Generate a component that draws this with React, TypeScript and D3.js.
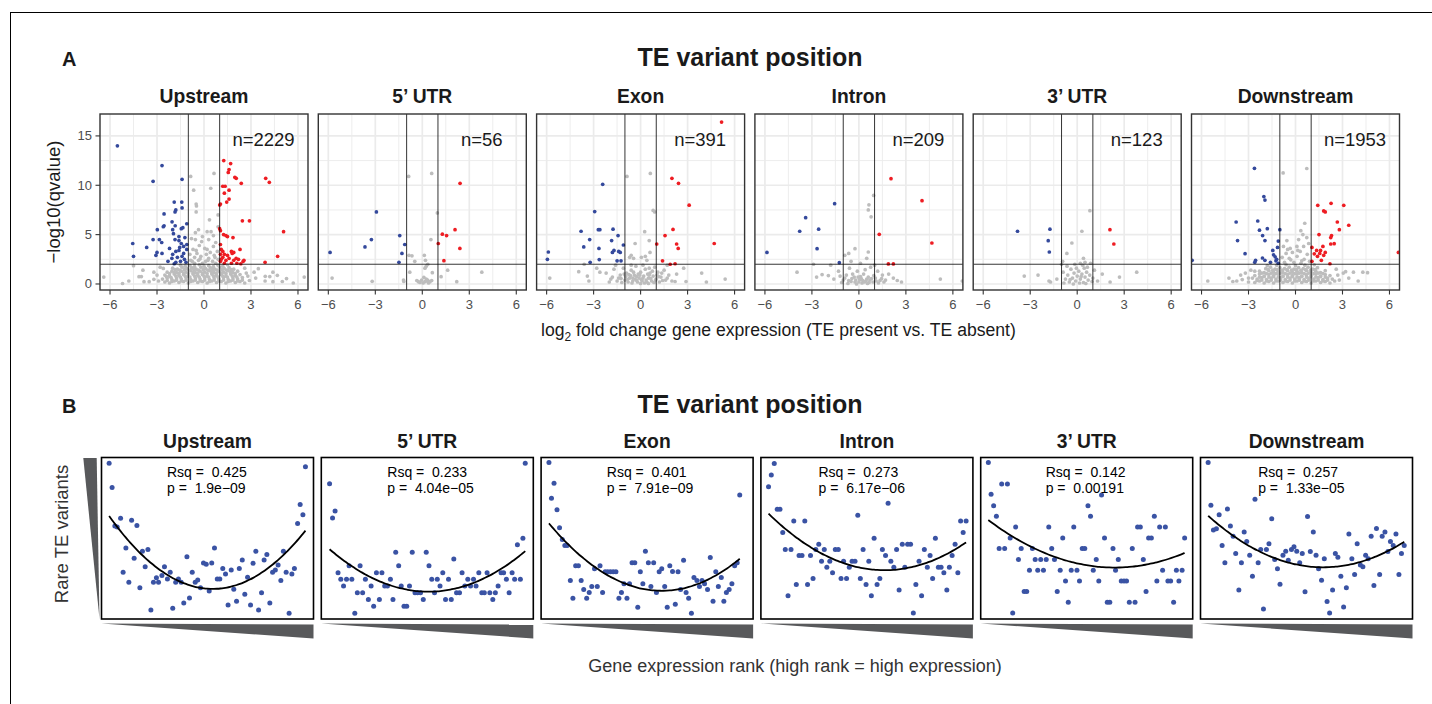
import React from "react";
import * as d3 from "d3";

// ---------- data ----------
const facets = ["Upstream", "5\u2019 UTR", "Exon", "Intron", "3\u2019 UTR", "Downstream"];
const nLabels = ["n=2229", "n=56", "n=391", "n=209", "n=123", "n=1953"];
const xTicks = [-6, -3, 0, 3, 6];
const xMinor = [-4.5, -1.5, 1.5, 4.5];
const yTicks = [0, 5, 10, 15];
const yMinor = [2.5, 7.5, 12.5];
const lfcCut = [-1, 1];
const qCut = 2;

// Panel A: "log2FC,-log10q" pairs per facet
const downA = [
  "-5.53,14.0 -2.68,12.0 -3.25,10.4 -1.40,10.6 -1.9,8.3 -1.42,8.3 -1.8,7.5 -1.4,7.7 -1.85,7.3 -2.55,7.1 -2.04,6.3 -2.55,5.9 -2.6,5.8 -2.98,5.5 -1.84,5.9 -1.1,6.1 -2.0,5.5 -1.45,5.6 -1.35,5.7 -1.95,5.1 -1.6,4.8 -1.22,4.7 -3.25,4.5 -2.85,4.5 -2.7,4.2 -4.55,4.1 -3.66,3.7 -3.0,3.2 -3.07,2.9 -2.68,3.1 -4.5,2.8 -2.0,3.0 -1.8,3.3 -1.6,3.4 -1.3,3.1 -2.05,2.6 -1.8,2.2 -1.5,2.3 -1.25,2.5 -1.9,2.05 -2.3,2.3 -1.85,4.5 -1.6,4.4 -1.45,4.1 -1.3,3.8 -1.1,4.0 -1.55,3.7 -1.15,2.2 -1.7,2.7 -1.4,2.8 -2.2,3.6 -1.1,3.5",
  "-5.89,3.2 -2.93,7.3 -3.25,4.5 -3.66,3.75 -1.44,4.9 -1.12,4.0 -1.3,3.1 -1.49,2.2",
  "-5.89,3.24 -5.95,2.5 -2.42,10.1 -2.93,7.33 -3.8,5.34 -2.7,5.5 -2.6,5.5 -1.76,5.55 -3.25,4.5 -1.44,4.9 -1.85,4.4 -1.1,3.95 -3.63,3.75 -2.66,3.6 -1.4,3.3 -1.3,3.2 -1.8,3.2 -1.7,3.4 -2.64,2.47 -3.22,2.2 -1.5,2.35 -1.25,2.35",
  "-5.87,3.2 -1.55,8.14 -3.4,6.72 -3.78,5.34 -2.57,5.55 -2.67,3.58 -1.25,2.16",
  "-3.81,5.34 -1.74,5.55 -1.85,4.39 -1.78,3.24",
  "-2.62,11.72 -2.02,8.85 -1.95,8.5 -3.79,6.28 -2.41,6.38 -2.3,5.45 -1.8,5.6 -1.0,5.5 -2.1,4.9 -1.95,4.4 -3.7,4.4 -1.1,4.35 -1.15,3.7 -1.45,3.4 -3.22,3.07 -2.11,2.63 -1.95,2.4 -1.4,2.95 -1.3,2.75 -1.2,2.5 -1.25,2.35 -2.55,2.4 -2.6,2.2 -6.6,2.4 -1.6,2.2 -1.1,2.1",
];
const upA = [
  "1.26,12.5 1.7,12.2 1.6,11.6 1.55,11.3 1.97,10.8 2.06,10.7 2.38,10.2 3.94,10.7 4.17,10.3 1.2,9.9 1.35,9.9 1.3,9.2 1.6,9.5 1.6,8.6 1.45,8.3 1.05,8.1 1.0,8.0 2.45,6.4 2.9,6.4 5.08,5.3 1.0,5.6 1.05,5.4 1.25,5.0 1.4,4.9 1.5,4.8 1.85,4.7 1.05,4.0 1.1,3.5 1.2,3.3 1.3,3.0 1.75,3.3 1.8,3.1 1.9,3.2 2.3,3.5 1.6,2.6 1.4,2.4 1.2,2.7 1.1,2.5 1.5,2.9 1.9,2.4 2.05,2.6 2.2,2.5 2.5,2.3 2.55,2.4 1.75,2.1 2.1,2.1 2.35,2.05 4.7,2.8 3.9,2.2 1.3,2.1 1.05,2.3 1.05,3.0",
  "2.41,10.2 2.09,5.5 1.28,5.05 1.55,4.9 1.02,4.1 2.4,3.6 1.38,2.36",
  "5.17,16.4 2.0,10.7 2.42,10.2 3.1,7.98 2.07,5.53 1.56,4.9 1.03,4.05 2.3,4.05 2.4,3.6 4.7,4.1 1.4,2.35 1.89,2.0 2.2,2.05",
  "2.05,10.67 4.03,8.44 4.66,4.15 1.3,5.03 1.88,2.03 2.2,2.03",
  "2.09,5.5 2.34,4.05",
  "1.42,7.97 2.27,8.17 3.08,7.97 1.8,7.4 1.9,7.3 2.67,6.28 3.4,5.95 2.8,5.5 1.5,5.0 2.3,4.9 2.25,4.7 2.25,4.05 2.47,4.08 1.05,3.7 1.35,3.4 1.75,3.8 1.6,3.4 1.8,2.9 1.55,3.1 1.4,2.8 1.65,2.4 1.05,2.3 2.2,2.05 6.57,3.2 1.2,3.05 1.9,3.2",
];
const nsA = [
  "-0.85,10.9 0.64,11.2 -0.66,9.5 0.43,9.7 -0.5,8.1 -0.48,7.9 -0.5,7.3 0.9,7.0 0.35,6.5 0.9,5.8 -0.35,5.5 -0.55,5.2 0.2,5.3 0.45,5.3 0.3,4.5 -0.15,4.3 -0.55,4.5 -0.8,4.6 0.75,4.2 0.6,3.8 -0.3,3.9 0.05,3.6 -0.7,3.5 0.85,3.3 0.4,3.2 -0.45,3.1 -0.9,3.0 0.15,3.0 0.65,2.9 -0.2,2.8 -0.6,2.7 0.3,2.6 0.9,2.5 -0.85,2.4 -0.35,2.4 0.1,2.3 0.55,2.3 -0.1,2.1 0.75,2.1 -0.6,2.1 " +
  "-2.5,0.2 -2.2,0.1 -1.9,0.3 -1.6,0.15 -1.3,0.25 -1.0,0.1 -0.7,0.3 -0.4,0.15 -0.1,0.25 0.2,0.1 0.5,0.3 0.8,0.15 1.1,0.25 1.4,0.1 1.7,0.3 2.0,0.15 2.3,0.25 2.6,0.1 " +
  "-2.65,0.5 -2.35,0.6 -2.05,0.45 -1.75,0.6 -1.45,0.5 -1.15,0.65 -0.85,0.45 -0.55,0.6 -0.25,0.5 0.05,0.65 0.35,0.45 0.65,0.6 0.95,0.5 1.25,0.65 1.55,0.45 1.85,0.6 2.15,0.5 2.45,0.65 " +
  "-2.5,0.9 -2.2,0.8 -1.9,1.0 -1.6,0.85 -1.3,0.95 -1.0,0.8 -0.7,1.0 -0.4,0.85 -0.1,0.95 0.2,0.8 0.5,1.0 0.8,0.85 1.1,0.95 1.4,0.8 1.7,1.0 2.0,0.85 2.3,0.95 " +
  "-2.35,1.2 -2.05,1.3 -1.75,1.15 -1.45,1.3 -1.15,1.2 -0.85,1.35 -0.55,1.15 -0.25,1.3 0.05,1.2 0.35,1.35 0.65,1.15 0.95,1.3 1.25,1.2 1.55,1.35 1.85,1.15 2.15,1.3 " +
  "-2.0,1.6 -1.7,1.5 -1.4,1.7 -1.1,1.55 -0.8,1.65 -0.5,1.5 -0.2,1.7 0.1,1.55 0.4,1.65 0.7,1.5 1.0,1.7 1.3,1.55 1.6,1.65 1.9,1.5 -1.5,1.9 -0.9,1.85 -0.3,1.95 0.3,1.85 0.9,1.9 1.5,1.95 " +
  "-2.35,0.35 -2.05,0.25 -1.75,0.4 -1.45,0.3 -1.15,0.4 -0.85,0.25 -0.55,0.4 -0.25,0.3 0.05,0.4 0.35,0.25 0.65,0.4 0.95,0.3 1.25,0.4 1.55,0.25 1.85,0.4 2.15,0.3 2.45,0.4 " +
  "-2.4,0.75 -2.1,0.65 -1.8,0.8 -1.5,0.7 -1.2,0.8 -0.9,0.7 -0.6,0.8 -0.3,0.7 0.0,0.8 0.3,0.7 0.6,0.8 0.9,0.7 1.2,0.8 1.5,0.7 1.8,0.8 2.1,0.7 " +
  "-2.2,1.05 -1.9,1.15 -1.6,1.05 -1.3,1.1 -1.0,1.05 -0.7,1.15 -0.4,1.05 -0.1,1.1 0.2,1.05 0.5,1.15 0.8,1.05 1.1,1.1 1.4,1.05 1.7,1.15 2.0,1.05 " +
  "-1.85,1.45 -1.55,1.4 -1.25,1.45 -0.95,1.4 -0.65,1.45 -0.35,1.4 -0.05,1.45 0.25,1.4 0.55,1.45 0.85,1.4 1.15,1.45 1.45,1.4 1.75,1.45 -1.2,1.8 -0.6,1.75 0.0,1.8 0.6,1.75 1.2,1.8 -0.75,2.3 -0.25,2.55 0.25,2.4 0.7,2.7 -0.5,3.4 0.2,3.5 -0.1,4.8 0.6,4.9 " +
  "-6.4,0.7 -5.2,0.05 -4.8,0.3 -4.5,1.85 -4.15,0.74 -3.83,0.23 -3.5,0.23 -3.2,0.47 -3.2,1.2 -3.0,0.9 -2.9,0.3 -2.8,1.7 -2.6,1.58 2.8,0.8 2.9,0.35 3.2,1.2 3.3,0.6 3.47,1.55 3.91,0.78 4.68,0.88 5.27,0.55 4.4,0.23 3.9,0.3 4.2,0.75 4.4,1.2 5.0,0.25 5.7,0.1 6.4,0.7 -3.9,1.4 -4.0,0.75 2.6,1.6 2.7,1.1",
  "-0.87,10.9 0.6,11.2 0.96,7.2 0.55,4.5 -0.85,2.9 -0.66,2.85 -0.48,2.3 0.13,2.9 0.2,2.4 0.35,2.0 0.25,1.8 -5.76,0.6 -3.2,0.27 -1.2,0.4 -1.18,0.25 -0.8,1.2 -0.25,0.23 -0.04,0.4 0.17,0.23 0.34,0.4 0.49,0.23 0.64,1.15 1.2,0.74 1.62,1.4 2.2,0.23 3.8,1.2 0.17,1.6 0.1,0.67 -0.15,0.15 0.05,0.1 0.25,0.5 0.4,0.1 0.3,0.3 -0.35,0.35 0.6,0.35",
  "-0.87,10.9 0.62,11.2 0.8,7.45 0.9,7.3 0.26,5.3 -0.35,4.1 0.55,4.4 0.6,3.2 -0.6,2.9 -0.7,2.7 -0.45,2.6 0.05,2.7 0.3,2.8 0.4,2.4 -5.8,0.6 -3.95,1.25 -3.4,0.8 -3.3,0.3 -3.6,2.0 -2.8,1.6 -2.6,1.2 -2.2,1.1 -1.9,0.5 -1.7,1.5 -1.5,0.3 -1.3,0.9 -1.1,1.6 -1.0,0.4 -0.9,1.1 -0.8,0.2 -0.7,0.6 -0.6,1.4 -0.5,0.3 -0.4,0.9 -0.3,1.8 -0.2,0.2 -0.1,0.6 0.0,1.2 0.1,0.3 0.2,0.8 0.3,1.5 0.4,0.2 0.5,0.6 0.6,1.1 0.7,0.3 0.8,0.8 0.9,1.7 1.0,0.5 1.1,1.2 1.2,0.2 1.3,0.7 1.5,1.4 1.6,0.4 1.8,0.9 2.0,0.3 2.3,1.0 2.75,1.6 3.9,1.1 4.2,0.2 5.4,0.5 2.2,0.25 2.9,0.25 -0.95,0.75 -0.75,0.95 -0.55,0.1 -0.35,0.5 -0.15,1.0 0.05,0.45 0.25,0.1 0.45,1.0 0.65,0.55 0.85,0.15 1.05,0.9 1.4,0.35 -1.2,0.15 -1.4,0.6 -2.0,0.2 -0.25,0.75 0.15,1.9 -0.6,1.9 0.55,1.6 1.7,1.9 -1.6,1.9 " +
  "-1.25,0.55 -1.05,1.0 -0.85,0.45 -0.65,0.85 -0.45,1.2 -0.25,0.35 -0.05,0.9 0.15,0.6 0.35,0.4 0.55,0.9 0.75,1.3 0.95,0.4 1.15,0.75 1.35,1.1 -0.5,0.6 0.0,0.05 0.5,0.05 1.7,0.6 -1.8,0.7",
  "0.94,8.97 0.64,8.02 0.6,7.5 0.78,6.8 -0.25,3.58 0.6,3.24 -0.65,3.1 -0.9,2.9 -2.9,2.0 -3.95,1.2 -2.7,0.7 -2.35,0.95 -1.95,0.85 -1.6,0.5 -1.3,1.3 -1.0,0.4 -0.8,0.9 -0.6,1.6 -0.5,0.25 -0.3,0.7 -0.1,1.3 0.0,0.2 0.15,0.55 0.3,1.0 0.45,0.3 0.6,0.7 0.75,1.7 0.9,0.2 1.05,0.6 1.2,1.3 1.35,0.35 1.5,0.9 1.7,0.4 1.9,1.0 2.2,0.6 2.45,0.35 2.72,0.2 5.2,0.5 6.6,0.3 -1.1,0.15 -0.7,0.05 -0.2,0.4 0.2,0.1 0.55,0.05 0.95,0.85 1.25,0.1 -0.4,1.0 -0.9,0.6 0.1,0.75 0.4,1.45 -0.15,0.0 0.7,0.4 1.0,1.9 -1.8,1.9 0.1,2.1 0.5,2.6 -0.5,2.3 " +
  "-0.45,0.55 -0.25,0.2 -0.05,0.7 0.25,0.35 0.5,0.5 0.8,0.55 1.1,0.3 1.45,0.55 -0.65,0.35 0.05,0.45 0.35,0.2 0.65,0.15 -1.2,0.8 1.6,0.2",
  "0.81,7.43 0.3,5.34 -0.34,4.15 -0.66,3.1 -0.93,2.3 0.4,2.6 0.5,2.2 0.35,1.9 0.45,1.6 -3.38,0.8 3.8,1.2 1.1,1.4 1.6,1.0 2.1,0.2 -1.8,0.3 -1.7,0.2 -0.9,1.2 -0.75,0.5 -0.6,0.9 -0.5,0.2 -0.4,1.5 -0.3,0.6 -0.2,1.1 -0.1,0.3 0.0,0.8 0.1,1.3 0.2,0.5 0.3,1.0 0.4,0.15 0.5,0.7 0.6,1.2 0.7,0.4 0.8,0.9 0.95,0.25 -0.85,0.1 -0.25,0.0 0.15,0.1 0.55,0.05 -0.45,0.45 0.25,0.75 -0.05,1.6 0.65,1.7 -0.65,1.8 1.0,0.6 -1.0,2.0 0.85,2.1 0.2,2.1 -0.15,2.0 1.3,0.3 -1.3,0.5 -2.5,0.9 2.7,0.7",
  "-0.79,11.25 0.72,11.7 0.59,6.15 0.34,5.4 0.47,5.0 0.72,4.7 0.2,4.5 -0.55,4.4 -0.77,3.8 -0.34,3.6 0.09,3.8 0.52,3.8 0.84,4.1 -0.6,3.1 -0.2,3.2 0.3,3.3 0.75,3.0 -0.85,2.7 -0.4,2.6 0.1,2.8 0.55,2.5 0.9,2.3 -0.7,2.2 -0.1,2.2 0.35,2.1 " +
  "-2.6,0.15 -2.3,0.3 -2.0,0.1 -1.7,0.25 -1.4,0.1 -1.1,0.3 -0.8,0.15 -0.5,0.25 -0.2,0.1 0.1,0.3 0.4,0.15 0.7,0.25 1.0,0.1 1.3,0.3 1.6,0.15 1.9,0.25 2.2,0.1 2.5,0.3 " +
  "-2.75,0.6 -2.45,0.5 -2.15,0.65 -1.85,0.45 -1.55,0.6 -1.25,0.5 -0.95,0.65 -0.65,0.45 -0.35,0.6 -0.05,0.5 0.25,0.65 0.55,0.45 0.85,0.6 1.15,0.5 1.45,0.65 1.75,0.45 2.05,0.6 2.35,0.5 " +
  "-2.6,0.85 -2.3,1.0 -2.0,0.8 -1.7,0.95 -1.4,0.85 -1.1,1.0 -0.8,0.8 -0.5,0.95 -0.2,0.85 0.1,1.0 0.4,0.8 0.7,0.95 1.0,0.85 1.3,1.0 1.6,0.8 1.9,0.95 2.2,0.85 " +
  "-2.3,1.3 -2.0,1.15 -1.7,1.35 -1.4,1.2 -1.1,1.3 -0.8,1.15 -0.5,1.35 -0.2,1.2 0.1,1.3 0.4,1.15 0.7,1.35 1.0,1.2 1.3,1.3 1.6,1.15 1.9,1.35 " +
  "-1.9,1.55 -1.6,1.7 -1.3,1.5 -1.0,1.65 -0.7,1.55 -0.4,1.7 -0.1,1.5 0.2,1.65 0.5,1.55 0.8,1.7 1.1,1.5 1.4,1.65 -1.2,1.9 -0.6,1.95 0.0,1.85 0.6,1.9 1.2,1.95 -1.8,1.85 " +
  "-2.45,0.35 -2.15,0.4 -1.85,0.3 -1.55,0.4 -1.25,0.3 -0.95,0.4 -0.65,0.3 -0.35,0.4 -0.05,0.3 0.25,0.4 0.55,0.3 0.85,0.4 1.15,0.3 1.45,0.4 1.75,0.3 2.05,0.4 " +
  "-2.3,0.7 -2.0,0.75 -1.7,0.7 -1.4,0.75 -1.1,0.7 -0.8,0.75 -0.5,0.7 -0.2,0.75 0.1,0.7 0.4,0.75 0.7,0.7 1.0,0.75 1.3,0.7 1.6,0.75 1.9,0.7 " +
  "-2.15,1.1 -1.85,1.05 -1.55,1.1 -1.25,1.05 -0.95,1.1 -0.65,1.05 -0.35,1.1 -0.05,1.05 0.25,1.1 0.55,1.05 0.85,1.1 1.15,1.05 1.45,1.1 1.75,1.05 " +
  "-1.75,1.45 -1.45,1.4 -1.15,1.45 -0.85,1.4 -0.55,1.45 -0.25,1.4 0.05,1.45 0.35,1.4 0.65,1.45 0.95,1.4 1.25,1.45 -0.3,2.45 0.4,2.35 -0.5,3.5 0.15,3.4 " +
  "-5.6,0.3 -4.25,0.6 -4.0,0.25 -3.75,0.3 -3.5,0.9 -3.2,1.1 -3.0,0.6 -3.0,0.2 -2.85,1.4 -2.6,1.3 -3.4,0.45 2.7,0.9 2.8,0.4 3.05,1.1 3.2,1.25 3.4,0.6 3.7,1.2 4.0,0.3 4.3,1.2 4.6,1.15 2.6,1.5",
];

// Panel B: "rank %, rare TE variant level %" pairs per facet
const rsqLabels = ["0.425", "0.233", "0.401", "0.273", "0.142", "0.257"];
const pLabels = ["1.9e\u221209", "4.04e\u221205", "7.91e\u221209", "6.17e\u221206", "0.00191", "1.33e\u221205"];
const textOffset = [65.5, 66, 65.7, 57.6, 65, 57.7];
const rankPts = [
  "3.6,96.5 5.0,81.4 6.3,57.6 7.4,57.0 9.0,62.4 14.2,61.2 16.7,57.9 11.5,44.0 15.4,37.6 19.3,41.9 21.9,43.0 10.2,28.9 12.9,22.7 18.1,19.4 20.6,32.4 23.3,5.6 24.5,22.7 26.9,22.7 25.9,25.6 28.5,26.9 29.7,32.4 31.1,24.8 32.4,28.9 33.6,6.6 35.0,22.7 36.3,24.8 37.6,22.7 38.8,9.9 40.3,38.6 41.5,13.0 42.8,28.9 44.2,22.7 45.4,24.2 46.7,19.4 48.1,34.7 49.4,33.9 52.0,34.7 50.8,17.4 53.3,44.0 54.6,24.8 55.8,24.8 57.2,31.2 58.5,27.9 59.7,8.7 61.2,30.4 62.4,18.4 63.7,11.0 65.0,31.2 66.4,36.6 67.6,15.3 68.9,25.8 70.3,8.7 71.5,34.5 72.8,41.9 74.1,5.6 75.5,16.3 76.7,36.6 78.0,39.9 79.4,9.9 80.7,28.9 82.0,30.4 83.3,33.5 84.6,23.8 85.8,41.9 87.1,28.9 88.5,3.5 89.8,27.9 91.0,31.2 92.5,59.1 93.7,70.9 95.0,64.5 96.2,94.2",
  "3.9,83.7 5.3,62.6 6.5,66.9 7.9,28.7 9.2,24.6 11.9,24.6 14.4,24.6 10.5,20.5 13.1,32.9 17.0,16.3 19.5,16.3 18.3,32.9 15.8,3.5 20.8,24.6 22.2,12.0 23.5,20.5 24.7,7.9 26.0,28.7 28.6,28.7 27.4,12.0 29.9,20.5 31.2,20.5 32.6,24.6 33.8,12.0 35.1,41.3 36.5,32.9 37.7,20.5 39.0,7.9 40.3,7.9 41.6,20.5 42.9,41.3 44.2,16.3 45.4,16.3 46.8,16.3 48.1,12.0 49.5,41.3 50.8,32.9 52.1,24.6 54.7,24.6 53.4,16.3 56.0,20.5 57.3,28.7 58.6,12.0 61.3,12.0 60.0,24.6 62.5,37.2 63.8,16.3 65.2,16.3 66.4,28.7 67.7,20.5 69.1,24.6 71.8,24.6 70.4,20.5 73.0,20.5 74.3,28.7 75.7,16.3 76.9,16.3 78.2,28.7 79.5,16.3 80.9,12.0 82.1,16.3 83.4,20.5 84.8,28.7 86.0,28.7 87.3,24.6 88.6,16.3 90.0,28.7 91.2,24.6 93.9,24.6 92.5,45.9 95.1,50.0 96.2,96.5",
  "3.7,96.9 6.1,84.1 4.9,74.7 7.5,67.7 8.7,56.5 10.0,49.3 11.2,45.5 12.3,45.5 13.8,23.8 15.0,12.8 16.3,32.9 17.6,32.9 18.9,23.8 20.1,18.2 21.5,12.8 22.7,16.4 23.9,20.1 26.5,20.1 25.2,31.1 27.8,32.9 29.0,16.4 30.2,29.2 31.4,29.2 32.7,29.2 34.0,29.2 35.3,29.2 36.7,12.8 37.9,16.4 39.1,21.9 40.5,12.8 41.7,21.9 42.9,34.8 44.2,34.8 45.6,7.2 46.8,29.2 48.0,21.9 49.2,42.0 50.6,34.8 53.1,34.8 51.8,20.1 54.4,16.4 55.7,29.2 56.9,31.1 58.3,20.1 59.5,7.2 60.7,32.9 62.0,29.4 63.3,9.1 64.6,29.2 65.8,18.2 67.2,36.4 68.4,16.4 69.6,12.8 70.9,3.5 72.1,25.7 73.5,23.8 74.7,20.1 75.9,23.8 77.1,21.9 78.5,18.2 79.8,38.1 81.1,11.0 82.4,29.2 83.6,20.1 85.0,25.7 86.2,11.0 87.4,16.4 88.7,18.2 90.0,21.9 91.3,32.9 92.5,34.8 93.7,76.8",
  "3.6,81.9 4.9,89.1 6.3,96.3 7.7,67.9 9.0,67.9 10.3,53.5 11.5,43.0 14.2,43.0 12.8,14.4 15.5,60.7 16.7,21.4 18.0,39.3 19.4,39.3 20.7,60.7 22.0,21.4 23.4,39.3 24.6,25.1 25.9,43.0 27.3,46.3 28.6,35.8 29.9,43.0 31.1,32.1 32.5,35.8 33.8,28.6 35.1,43.0 36.5,43.0 37.8,25.1 39.0,35.8 40.4,25.1 41.7,32.1 43.0,35.8 44.4,35.8 45.7,64.2 46.9,25.1 48.2,43.0 49.6,21.4 50.9,35.8 52.1,14.4 53.4,50.0 54.8,21.4 56.1,25.1 57.3,43.0 58.8,39.3 60.0,71.6 61.3,35.8 62.7,32.1 64.0,43.0 65.2,17.9 66.7,46.3 67.9,32.1 69.2,46.3 70.6,46.3 71.9,3.7 73.1,21.4 74.6,35.8 75.8,14.4 77.1,43.0 78.5,32.1 79.8,39.3 81.0,25.1 82.3,50.0 83.7,32.1 85.0,32.1 86.3,28.6 87.7,17.9 88.9,32.1 90.2,39.3 91.6,46.3 92.9,28.6 94.2,60.7 96.8,60.7 95.4,53.5",
  "3.6,96.9 4.9,77.2 6.1,70.2 7.4,63.6 8.7,43.7 11.3,43.7 9.9,83.6 12.6,83.6 13.9,50.1 15.1,3.7 16.5,56.9 17.8,36.9 19.1,43.7 20.5,17.0 21.7,17.0 23.0,30.2 24.4,43.7 25.7,36.9 28.3,36.9 30.9,36.9 26.9,30.2 29.6,30.2 32.1,56.9 33.5,43.7 34.8,36.9 36.1,17.0 37.5,30.2 38.7,50.1 40.0,23.6 41.3,10.4 42.7,30.2 45.4,30.2 43.9,56.9 46.6,23.6 47.9,43.7 49.1,43.7 50.6,70.2 51.8,63.6 53.1,30.2 54.5,36.9 55.7,23.6 57.0,76.8 58.4,50.1 59.7,10.4 60.9,10.4 62.4,43.7 63.6,30.2 64.9,36.9 66.3,23.6 67.6,23.6 68.8,23.6 70.1,10.4 72.8,10.4 71.5,43.7 74.0,56.9 75.3,56.9 76.7,36.9 78.0,17.0 79.2,50.1 80.5,50.1 81.9,63.6 83.1,23.6 84.4,56.9 87.1,56.9 85.8,30.2 88.3,23.6 89.6,23.6 91.0,10.4 92.3,30.2 95.0,30.2 93.5,23.6 96.2,50.1",
  "3.6,96.9 4.9,70.4 6.1,55.1 7.5,55.9 8.8,64.6 10.2,45.5 11.5,34.8 12.7,68.1 14.1,57.6 15.4,51.3 16.6,40.6 18.1,18.0 19.3,34.8 20.6,53.8 21.8,48.0 23.2,39.5 24.5,26.5 25.7,74.1 27.2,34.8 28.4,43.1 31.1,43.1 29.7,6.2 32.3,46.6 33.6,62.1 35.0,36.9 36.3,31.1 37.5,21.5 38.9,39.5 40.2,42.0 41.4,36.4 42.9,43.1 44.1,44.7 45.4,42.0 48.0,40.6 46.8,34.8 49.3,16.8 50.5,63.4 51.8,41.8 53.2,53.8 54.5,39.5 55.7,31.1 57.1,24.0 58.4,37.3 59.7,10.8 60.9,3.7 62.3,18.0 63.6,40.6 64.8,38.3 66.2,26.5 67.5,7.5 68.8,19.3 70.0,52.6 71.4,37.3 72.7,27.5 73.9,46.6 75.4,33.5 76.6,32.3 77.9,39.5 79.1,37.3 80.5,51.3 81.8,20.7 83.0,56.1 84.5,27.5 85.7,51.3 87.0,53.8 88.4,41.8 89.6,48.0 90.9,45.5 92.2,52.6 93.6,27.5 94.8,40.6 96.1,45.5",
];

// ---------- helpers ----------
const FONT = "'Liberation Sans', Arial, Helvetica, sans-serif";
const parse = (s: string): [number, number][] =>
  s.trim().split(/\s+/).map((p) => {
    const [a, b] = p.split(",").map(Number);
    return [a, b] as [number, number];
  });

function quadFit(pts: [number, number][]) {
  let n = 0, s1 = 0, s2 = 0, s3 = 0, s4 = 0, t0 = 0, t1 = 0, t2 = 0;
  for (const [x, y] of pts) {
    n++; s1 += x; s2 += x * x; s3 += x ** 3; s4 += x ** 4;
    t0 += y; t1 += x * y; t2 += x * x * y;
  }
  const M = [[n, s1, s2], [s1, s2, s3], [s2, s3, s4]];
  const v = [t0, t1, t2];
  const det = (m: number[][]) =>
    m[0][0] * (m[1][1] * m[2][2] - m[1][2] * m[2][1]) -
    m[0][1] * (m[1][0] * m[2][2] - m[1][2] * m[2][0]) +
    m[0][2] * (m[1][0] * m[2][1] - m[1][1] * m[2][0]);
  const D = det(M);
  const coef = [0, 1, 2].map((k) => det(M.map((row, i) => row.map((c, j) => (j === k ? v[i] : c)))) / D);
  return (x: number) => coef[0] + coef[1] * x + coef[2] * x * x;
}

const BLUE = "#34499c";
const RED = "#ee1d23";
const GREY = "#bdbdbd";
const TXT = "#1a1a1a";
const TICK = "#4d4d4d";

// layout
const A_LEFT = 100, A_STEP = 218.3, A_W = 208, A_TOP = 114, A_H = 176;
const B_LEFT = 101.5, B_STEP = 219.8, B_W = 212, B_TOP = 457.5, B_H = 161.5;

function PanelA({ i }: { i: number }) {
  const L = A_LEFT + i * A_STEP;
  const x = d3.scaleLinear().domain([-6.64, 6.64]).range([L, L + A_W]);
  const y = d3.scaleLinear().domain([-0.61, 17.22]).range([A_TOP + A_H, A_TOP]);
  const id = `clipA${i}`;
  const grey = parse(nsA[i]);
  const blue = parse(downA[i]);
  const red = parse(upA[i]);
  const bottom = A_TOP + A_H;
  const R = 1.85;
  return (
    <g>
      <defs>
        <clipPath id={id}>
          <rect x={L} y={A_TOP} width={A_W} height={A_H} />
        </clipPath>
      </defs>
      <rect x={L} y={A_TOP} width={A_W} height={A_H} fill="#fff" />
      <g clipPath={`url(#${id})`}>
        {xMinor.map((t) => (
          <line key={"xm" + t} x1={x(t)} x2={x(t)} y1={A_TOP} y2={bottom} stroke="#ebebeb" strokeWidth={0.9} />
        ))}
        {yMinor.map((t) => (
          <line key={"ym" + t} x1={L} x2={L + A_W} y1={y(t)} y2={y(t)} stroke="#ebebeb" strokeWidth={0.9} />
        ))}
        {xTicks.map((t) => (
          <line key={"xM" + t} x1={x(t)} x2={x(t)} y1={A_TOP} y2={bottom} stroke="#ebebeb" strokeWidth={1.7} />
        ))}
        {yTicks.map((t) => (
          <line key={"yM" + t} x1={L} x2={L + A_W} y1={y(t)} y2={y(t)} stroke="#ebebeb" strokeWidth={1.7} />
        ))}
        {grey.map(([a, b], k) => (
          <circle key={"g" + k} cx={x(a)} cy={y(b)} r={R} fill={GREY} />
        ))}
        {blue.map(([a, b], k) => (
          <circle key={"b" + k} cx={x(a)} cy={y(b)} r={R} fill={BLUE} />
        ))}
        {red.map(([a, b], k) => (
          <circle key={"r" + k} cx={x(a)} cy={y(b)} r={R} fill={RED} />
        ))}
        {lfcCut.map((c) => (
          <line key={"c" + c} x1={x(c)} x2={x(c)} y1={A_TOP} y2={bottom} stroke="#000" strokeWidth={0.8} />
        ))}
        <line x1={L} x2={L + A_W} y1={y(qCut)} y2={y(qCut)} stroke="#000" strokeWidth={0.8} />
      </g>
      <rect x={L} y={A_TOP} width={A_W} height={A_H} fill="none" stroke="#333" strokeWidth={1.4} />
      <text x={x(3.8)} y={y(14.65)} dominantBaseline="central" textAnchor="middle" fontSize={18.5} fill={TXT} fontFamily={FONT}>
        {nLabels[i]}
      </text>
      <text x={L + A_W / 2} y={103} textAnchor="middle" fontSize={19.3} fontWeight="bold" fill={TXT} fontFamily={FONT}>
        {facets[i]}
      </text>
      {xTicks.map((t) => (
        <g key={"xt" + t}>
          <line x1={x(t)} x2={x(t)} y1={bottom} y2={bottom + 4.5} stroke="#333" strokeWidth={1.1} />
          <text x={x(t)} y={309} textAnchor="middle" fontSize={13} fill={TICK} fontFamily={FONT}>
            {t < 0 ? "\u2212" + Math.abs(t) : String(t)}
          </text>
        </g>
      ))}
      {i === 0 &&
        yTicks.map((t) => (
          <g key={"yt" + t}>
            <line x1={L - 4.5} x2={L} y1={y(t)} y2={y(t)} stroke="#333" strokeWidth={1.1} />
            <text x={L - 8} y={y(t)} dominantBaseline="central" textAnchor="end" fontSize={13} fill={TICK} fontFamily={FONT}>
              {t}
            </text>
          </g>
        ))}
    </g>
  );
}

function PanelB({ i }: { i: number }) {
  const L = B_LEFT + i * B_STEP;
  const x = d3.scaleLinear().domain([0, 100]).range([L, L + B_W]);
  const y = d3.scaleLinear().domain([0, 100]).range([B_TOP + B_H, B_TOP]);
  const pts = parse(rankPts[i]);
  const f = quadFit(pts);
  const [x0, x1] = d3.extent(pts, (p) => p[0]) as [number, number];
  const samples = d3.range(0, 61).map((k) => x0 + ((x1 - x0) * k) / 60);
  const line = d3.line<number>().x((v) => x(v)).y((v) => y(f(v))).curve(d3.curveBasis);
  const bottom = B_TOP + B_H;
  return (
    <g>
      <text x={L + B_W / 2} y={448} textAnchor="middle" fontSize={19.3} fontWeight="bold" fill={TXT} fontFamily={FONT}>
        {facets[i]}
      </text>
      <rect x={L} y={B_TOP} width={B_W} height={B_H} fill="#fff" />
      {pts.map(([a, b], k) => (
        <circle key={k} cx={x(a)} cy={y(b)} r={2.5} fill="#3a53a4" />
      ))}
      <path d={line(samples) || ""} fill="none" stroke="#000" strokeWidth={1.8} />
      <rect x={L} y={B_TOP} width={B_W} height={B_H} fill="none" stroke="#000" strokeWidth={1.6} />
      <text x={L + textOffset[i]} y={B_TOP + 19.5} fontSize={14} fill="#000" fontFamily={FONT} style={{ whiteSpace: "pre" }}>
        {"Rsq =  " + rsqLabels[i]}
      </text>
      <text x={L + textOffset[i]} y={B_TOP + 35} fontSize={14} fill="#000" fontFamily={FONT} style={{ whiteSpace: "pre" }}>
        {"p =  " + pLabels[i]}
      </text>
      <polygon
        points={`${L},${bottom + 4.5} ${L + B_W},${bottom + 5.5} ${L + B_W},${bottom + 19.5}`}
        fill="#58595b"
      />
    </g>
  );
}

export default function App() {
  const idx = d3.range(6);
  return (
    <svg width={1432} height={704} style={{ position: "absolute", left: 0, top: 0, background: "#fff" }} fontFamily={FONT}>
      <rect x={0} y={0} width={1432} height={704} fill="#fff" />
      <line x1={10} x2={1432} y1={12.5} y2={12.5} stroke="#000" strokeWidth={1} />
      <line x1={10.5} x2={10.5} y1={12} y2={704} stroke="#000" strokeWidth={1} />

      {/* Panel A */}
      <text x={62} y={66} fontSize={20} fontWeight="bold" fill={TXT}>A</text>
      <text x={750} y={66} textAnchor="middle" fontSize={25} fontWeight="bold" fill={TXT}>TE variant position</text>
      {idx.map((i) => <PanelA key={i} i={i} />)}
      <text transform="translate(60,202) rotate(-90)" textAnchor="middle" fontSize={18.5} fill={TXT}>
        {"\u2212log10(qvalue)"}
      </text>
      <text x={541} y={336} fontSize={17.6} fill={TXT}>
        log<tspan fontSize={12} dy={5}>2</tspan>
        <tspan dy={-5}>{" fold change gene expression (TE present vs. TE absent)"}</tspan>
      </text>

      {/* Panel B */}
      <text x={62} y={413} fontSize={20} fontWeight="bold" fill={TXT}>B</text>
      <text x={750} y={413} textAnchor="middle" fontSize={25} fontWeight="bold" fill={TXT}>TE variant position</text>
      {idx.map((i) => <PanelB key={i} i={i} />)}
      <polygon points="83.3,458 96.7,458 99.5,619" fill="#58595b" />
      <text transform="translate(68,534) rotate(-90)" textAnchor="middle" fontSize={18.5} fill="#333">
        Rare TE variants
      </text>
      <text x={795} y={672} textAnchor="middle" fontSize={18} fill="#333">
        Gene expression rank (high rank = high expression)
      </text>
    </svg>
  );
}
